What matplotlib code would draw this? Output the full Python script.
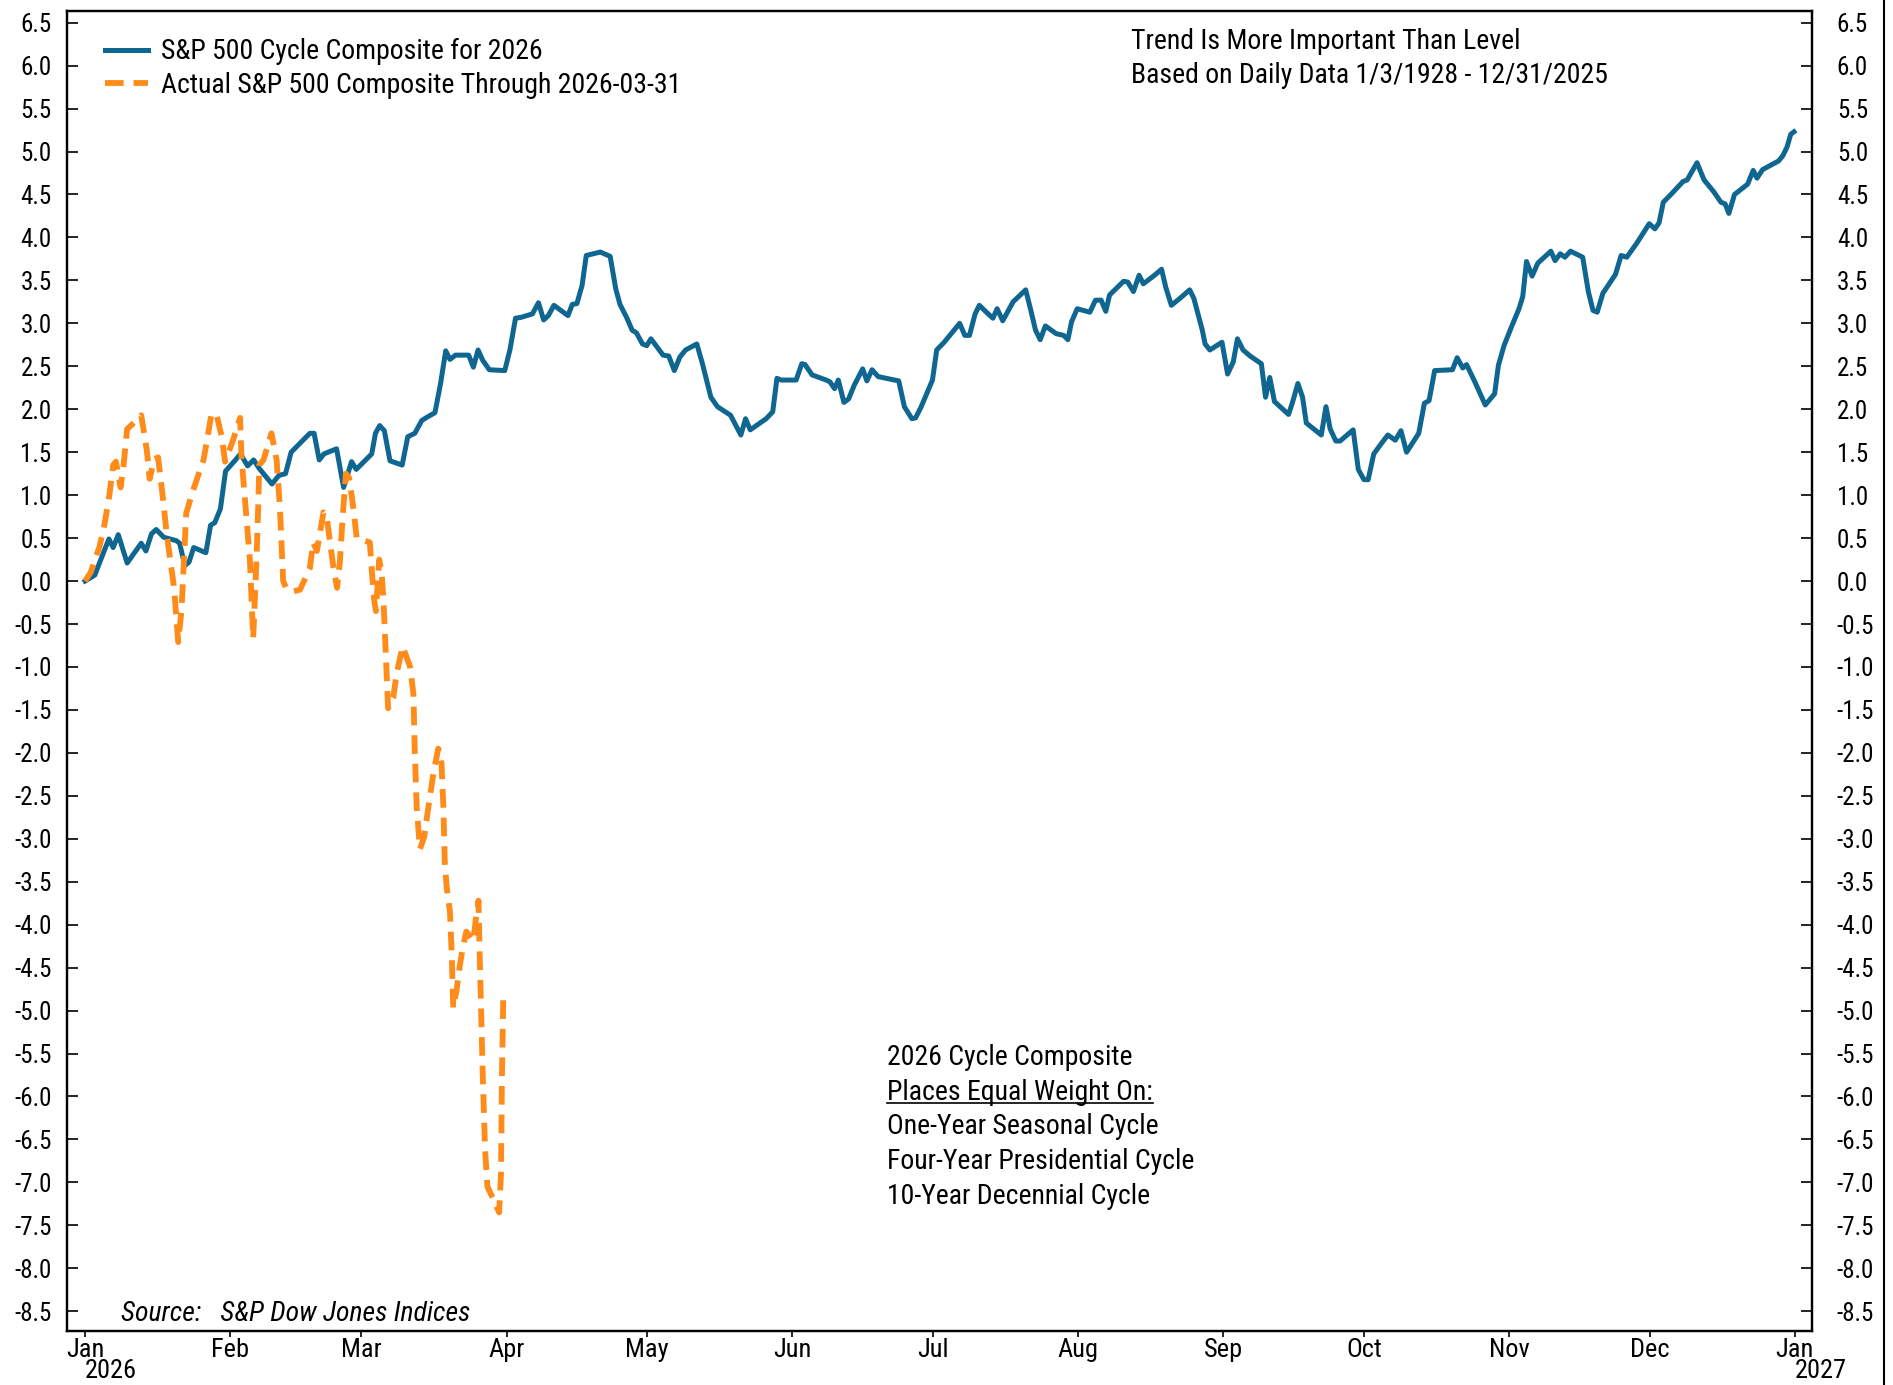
import matplotlib
matplotlib.use('Agg')
import matplotlib.pyplot as plt
from matplotlib.lines import Line2D
import numpy as np
import pandas as pd

plt.rcParams['font.family'] = ['DejaVu Sans Condensed', 'Liberation Sans Narrow', 'Roboto Condensed',
                               'Liberation Sans', 'DejaVu Sans']

start = pd.Timestamp('2026-01-01')

# S&P 500 cycle composite for 2026 (day of year, % change)
cycle_days = [0.0, 2.1, 3.3, 5.1, 6.0, 7.1, 9.0, 12.0, 13.0, 14.2, 15.2, 16.8, 19.5, 20.2, 21.3, 22.2,
              23.2, 25.8, 26.8, 27.7, 28.9, 30.0, 31.8, 33.2, 34.7, 36.0, 37.2, 39.9, 41.4, 42.8, 44.0,
              48.0, 48.9, 50.0, 51.0, 53.7, 55.2, 56.9, 57.9, 61.2, 62.0, 62.9, 63.9, 65.1, 67.7, 68.9,
              70.4, 71.9, 73.1, 74.7, 75.9, 77.0, 77.9, 79.1, 81.9, 82.9, 83.9, 84.9, 86.3, 89.6, 90.7,
              91.9, 93.1, 95.5, 96.8, 97.9, 98.9, 100.1, 103.1, 104.0, 105.0, 106.1, 107.0, 110.0, 112.1,
              113.3, 114.2, 115.6, 116.8, 117.7, 119.0, 119.9, 120.8, 123.4, 124.6, 125.8, 127.0, 128.2,
              130.6, 131.8, 133.6, 135.0, 137.8, 140.0, 141.0, 142.0, 145.4, 146.8, 147.7, 148.6, 151.8,
              153.0, 153.7, 155.2, 158.2, 159.0, 160.0, 160.8, 162.0, 163.0, 164.2, 166.0, 166.9, 168.0,
              169.3, 173.7, 174.9, 176.5, 177.3, 178.5, 180.9, 181.8, 183.4, 185.2, 186.7, 187.8, 188.8,
              190.0, 190.9, 192.4, 193.8, 194.7, 195.9, 198.1, 200.8, 201.9, 202.9, 203.9, 205.0, 207.3,
              208.9, 209.8, 210.6, 211.8, 214.5, 215.7, 216.9, 217.9, 218.7, 221.7, 222.6, 223.8, 225.0,
              225.9, 228.3, 229.8, 230.7, 231.9, 233.7, 235.8, 236.7, 238.5, 239.1, 240.1, 242.7, 243.9,
              245.1, 246.0, 247.2, 248.7, 251.1, 252.0, 252.9, 253.9, 256.9, 257.7, 258.9, 259.9, 260.7,
              263.9, 264.9, 265.8, 267.0, 267.9, 270.7, 271.8, 273.0, 273.9, 275.1, 276.7, 278.1, 279.7,
              280.9, 282.1, 284.7, 285.9, 286.9, 288.1, 291.9, 292.9, 294.1, 294.9, 296.5, 298.9, 300.9,
              301.7, 302.9, 304.5, 306.1, 306.9, 307.7, 308.9, 310.1, 312.9, 313.8, 314.9, 315.9, 317.1,
              319.7, 320.9, 321.9, 322.8, 324.0, 326.7, 327.9, 329.1, 331.2, 333.9, 335.1, 336.0, 336.9,
              338.7, 341.1, 342.0, 344.1, 345.6, 347.7, 349.2, 350.1, 350.9, 352.1, 354.9, 356.1, 356.9,
              358.1, 361.5, 362.4, 363.3, 364.1, 364.8]
cycle_values = [0.00, 0.07, 0.24, 0.49, 0.39, 0.54, 0.21, 0.44, 0.35, 0.55, 0.60, 0.51, 0.47, 0.44, 0.18, 0.22,
                0.39, 0.33, 0.65, 0.68, 0.84, 1.28, 1.39, 1.48, 1.34, 1.41, 1.31, 1.13, 1.23, 1.25, 1.50,
                1.72, 1.72, 1.41, 1.48, 1.54, 1.09, 1.39, 1.30, 1.48, 1.72, 1.81, 1.75, 1.40, 1.35, 1.68,
                1.72, 1.87, 1.91, 1.96, 2.30, 2.68, 2.58, 2.63, 2.63, 2.49, 2.69, 2.57, 2.46, 2.45, 2.69,
                3.06, 3.07, 3.11, 3.24, 3.04, 3.09, 3.21, 3.09, 3.22, 3.23, 3.44, 3.79, 3.83, 3.78,
                3.40, 3.22, 3.07, 2.92, 2.89, 2.76, 2.74, 2.82, 2.63, 2.62, 2.45, 2.61, 2.69,
                2.76, 2.53, 2.14, 2.03, 1.93, 1.70, 1.89, 1.76, 1.89, 1.97, 2.36, 2.34, 2.34,
                2.53, 2.52, 2.40, 2.34, 2.32, 2.24, 2.34, 2.08, 2.12, 2.28, 2.47, 2.33, 2.46,
                2.38, 2.33, 2.03, 1.89, 1.90, 2.03, 2.34, 2.69, 2.78, 2.90, 3.00, 2.86, 2.86,
                3.11, 3.21, 3.13, 3.06, 3.17, 3.03, 3.25, 3.39, 3.15, 2.92, 2.81, 2.97, 2.88,
                2.86, 2.81, 3.02, 3.17, 3.13, 3.27, 3.27, 3.14, 3.33, 3.49, 3.48, 3.37, 3.56,
                3.46, 3.56, 3.63, 3.42, 3.21, 3.29, 3.39, 3.29, 2.92, 2.76, 2.69, 2.78, 2.41,
                2.55, 2.82, 2.69, 2.62, 2.53, 2.14, 2.37, 2.09, 1.94, 2.07, 2.30, 2.14, 1.84,
                1.70, 2.03, 1.77, 1.63, 1.63, 1.76, 1.30, 1.18, 1.18, 1.48, 1.60, 1.70, 1.64,
                1.75, 1.50, 1.72, 2.07, 2.10, 2.45, 2.46, 2.60, 2.48, 2.52, 2.34, 2.05, 2.18,
                2.51, 2.74, 2.96, 3.17, 3.31, 3.72, 3.55, 3.70, 3.84, 3.73, 3.81, 3.77, 3.84,
                3.77, 3.37, 3.15, 3.13, 3.35, 3.57, 3.79, 3.77, 3.93, 4.16, 4.10, 4.17, 4.41,
                4.51, 4.65, 4.67, 4.87, 4.67, 4.53, 4.41, 4.39, 4.28, 4.50, 4.62, 4.78, 4.69,
                4.79, 4.89, 4.95, 5.05, 5.20, 5.23]

# Actual S&P 500 through 2026-03-31 (day of year, % change)
actual_days = [0.0, 1.2, 3.1, 4.2, 5.2, 6.0, 6.6, 7.6, 8.2, 9.0, 10.0, 12.0, 13.2, 13.8, 14.8, 15.6, 16.6,
               17.4, 18.2, 19.0, 19.9, 20.6, 21.6, 23.1, 25.3, 26.3, 27.0, 28.1, 29.2, 29.9, 31.6, 33.1,
               33.4, 34.2, 35.2, 35.9, 36.6, 37.0, 37.2, 38.1, 39.8, 40.9, 41.6, 42.3, 43.0, 44.5, 45.9,
               48.0, 48.7, 49.5, 50.9, 51.6, 52.3, 53.0, 53.8, 54.4, 55.0, 55.7, 56.4, 57.3, 58.0, 60.8,
               61.2, 61.7, 62.1, 62.8, 63.3, 63.7, 64.2, 64.7, 65.8, 66.5, 67.8, 69.4, 70.1, 70.4, 70.8,
               71.5, 72.4, 73.3, 74.4, 75.4, 76.1, 76.5, 76.8, 77.2, 77.9, 78.3, 78.6, 79.3, 80.0, 80.7,
               81.4, 82.9, 83.5, 84.0, 84.2, 84.5, 84.9, 85.4, 85.9, 87.2, 88.4, 88.8, 89.0, 89.3]
actual_values = [0.00, 0.10, 0.40, 0.67, 1.00, 1.35, 1.39, 1.09, 1.33, 1.77, 1.82, 1.93, 1.52, 1.19, 1.42, 1.44, 0.98,
                 0.57, 0.24, -0.07, -0.71, -0.34, 0.79, 1.06, 1.41, 1.72, 1.95, 1.93, 1.68, 1.39, 1.64, 1.90,
                 1.45, 0.91, 0.24, -0.67, 0.24, 0.91, 1.35, 1.41, 1.72, 1.41, 0.86, 0.00, -0.09, -0.12, -0.10,
                 0.15, 0.45, 0.35, 0.80, 0.75, 0.45, 0.17, -0.08, 0.22, 0.75, 1.25, 1.20, 0.84, 0.50, 0.45,
                 0.14, -0.21, -0.35, 0.25, 0.11, -0.21, -0.84, -1.48, -1.36, -1.08, -0.76, -1.00, -1.31, -2.00, -2.63,
                 -3.12, -2.98, -2.63, -2.23, -1.95, -2.12, -2.63, -3.27, -3.56, -3.85, -4.37, -4.97, -4.77, -4.48, -4.25,
                 -4.08, -4.19, -3.90, -3.72, -4.25, -4.88, -5.75, -6.62, -7.05, -7.20, -7.35, -6.90, -5.75, -4.80]

month_labels = ['Jan', 'Feb', 'Mar', 'Apr', 'May', 'Jun', 'Jul', 'Aug', 'Sep', 'Oct', 'Nov', 'Dec', 'Jan']
year_labels = ['2026', '2027']
y_ticks = np.arange(-8.5, 6.51, 0.5)

blue = '#0f6690'
orange = '#ff8c1a'
fs = 18     # tick labels
tfs = 20    # other text

cycle_dates = start + pd.to_timedelta(cycle_days, unit='D')
actual_dates = start + pd.to_timedelta(actual_days, unit='D')

fig = plt.figure(figsize=(18.93, 13.85), dpi=100)
ax = fig.add_axes([0.0354, 0.0390, 0.9217, 0.9533])

ax.plot(cycle_dates, cycle_values, color=blue, lw=3.6, solid_joinstyle='round',
        label='S&P 500 Cycle Composite for 2026')
ax.plot(actual_dates, actual_values, color=orange, lw=4.2, dashes=(3.2, 1.7),
        label='Actual S&P 500 Composite Through 2026-03-31')

ax.set_xlim(start - pd.Timedelta(days=3.84), start + pd.Timedelta(days=368.6))
ax.set_ylim(-8.73, 6.64)

ax.set_xticks(pd.date_range('2026-01-01', '2027-01-01', freq='MS'))
ax.set_xticklabels(month_labels)
ax.tick_params(axis='x', direction='out', length=4, width=1.2, pad=1, labelsize=fs + 1)

ax.set_yticks(y_ticks)
ax.set_yticklabels([f'{v:.1f}' for v in y_ticks])
ax.tick_params(axis='y', direction='in', length=8, width=1.2, pad=11, labelsize=fs)

ax2 = ax.twinx()
ax2.set_ylim(ax.get_ylim())
ax2.set_yticks(y_ticks)
ax2.set_yticklabels([f'{v:.1f}' for v in y_ticks])
ax2.tick_params(axis='y', direction='in', length=8, width=1.2, pad=18, labelsize=fs)

for a in (ax, ax2):
    for s in a.spines.values():
        s.set_linewidth(1.6)

for yr, d in zip(year_labels, ['2026-01-01', '2027-01-01']):
    ax.text(pd.Timestamp(d), -0.021, yr, transform=ax.get_xaxis_transform(),
            ha='left', va='top', fontsize=fs + 1)

ax.legend(loc='upper left', bbox_to_anchor=(0.022, 0.979), frameon=False, fontsize=tfs,
          handlelength=1.55, handletextpad=0.45, labelspacing=0.22, borderaxespad=0, borderpad=0)

ax.text(0.61, 0.977, 'Trend Is More Important Than Level', transform=ax.transAxes,
        ha='left', va='center', fontsize=tfs)
ax.text(0.61, 0.951, 'Based on Daily Data 1/3/1928 - 12/31/2025', transform=ax.transAxes,
        ha='left', va='center', fontsize=tfs)

notes = ['2026 Cycle Composite', 'Places Equal Weight On:', 'One-Year Seasonal Cycle',
         'Four-Year Presidential Cycle', '10-Year Decennial Cycle']
note_y = [0.2068, 0.1803, 0.1545, 0.128, 0.1015]
note_texts = [ax.text(0.470, y, t, transform=ax.transAxes, ha='left', va='center', fontsize=tfs)
              for t, y in zip(notes, note_y)]

ax.text(0.031, 0.0129, 'Source:   S&P Dow Jones Indices', transform=ax.transAxes,
        ha='left', va='center', fontsize=tfs, style='italic')

fig.add_artist(Line2D([0.9955, 0.9955], [0, 1], transform=fig.transFigure, color='black', lw=1.5))

# underline
fig.canvas.draw()
r = fig.canvas.get_renderer()
bb = note_texts[1].get_window_extent(renderer=r)
inv = ax.transAxes.inverted()
(x0, y0), (x1, _) = inv.transform([[bb.x0, bb.y0 + 0.13 * bb.height], [bb.x1, bb.y0]])
ax.plot([x0, x1], [y0, y0], transform=ax.transAxes, color='black', lw=1.2)

fig.savefig('out.png', dpi=100)
